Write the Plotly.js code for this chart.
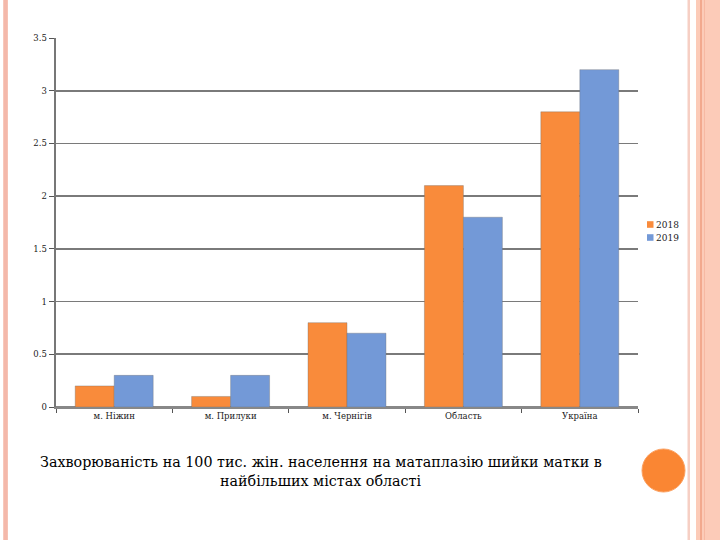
<!DOCTYPE html>
<html>
<head>
<meta charset="utf-8">
<script src="https://cdn.plot.ly/plotly-3.0.1.min.js"></script>
<style>
html,body{margin:0;padding:0;background:#fff;}
#chart{width:720px;height:540px;}
</style>
</head>
<body>
<div id="chart"></div>
<script>
const categories = ["м. Ніжин", "м. Прилуки", "м. Чернігів", "Область", "Україна"];
const series2018 = [0.2, 0.1, 0.8, 2.1, 2.8];
const series2019 = [0.3, 0.3, 0.7, 1.8, 3.2];
const seriesNames = ["2018", "2019"];
const seriesColors = ["#F98B3B", "#7399D7"];
const yTicks = [0, 0.5, 1, 1.5, 2, 2.5, 3, 3.5];
const captionLines = ["Захворюваність на 100 тис. жін. населення на матаплазію шийки матки в", "найбільших містах області"];

const SERIF = "DejaVu Serif";
const W = 720, H = 540;
const M = {l: 56, r: 82, t: 38, b: 133};
const pw = W - M.l - M.r, ph = H - M.t - M.b;
const px = x => (x - M.l) / pw;
const py = y => 1 - (y - M.t) / ph;

const traces = [series2018, series2019].map((vals, i) => ({
  type: "bar", name: seriesNames[i], x: categories, y: vals, showlegend: false,
  marker: {color: seriesColors[i], line: {color: "rgba(110,110,110,0.6)", width: 0.6}}
}));

function vrect(x0, x1, color) {
  return {type: "rect", xref: "paper", yref: "paper", x0: px(x0), x1: px(x1),
          y0: py(H), y1: py(0), fillcolor: color, line: {width: 0}, layer: "below"};
}

const shapes = [
  vrect(3, 8, "#F7C9BC"),
  vrect(4.5, 5.5, "#F2A898"),
  vrect(6.5, 7.2, "#F2A898"),
  vrect(687.5, 690, "#F6CFC4"),
  vrect(696, 720, "#FCCBB8"),
  vrect(700, 702, "#F2A98E"),
  vrect(704, 705, "#F6B9A3"),
  {type: "circle", xref: "paper", yref: "paper",
   x0: px(642), x1: px(685), y0: py(492), y1: py(449),
   fillcolor: "#FA8633", line: {color: "#FBA060", width: 1}}
];

const annotations = [];
seriesNames.forEach((n, i) => {
  const cy = 224.5 + i * 13;
  shapes.push({type: "rect", xref: "paper", yref: "paper",
    x0: px(647), x1: px(653.5), y0: py(cy + 3.3), y1: py(cy - 3.3),
    fillcolor: seriesColors[i], line: {width: 0}});
  annotations.push({xref: "paper", yref: "paper", x: px(654.5), y: py(cy),
    text: n, showarrow: false, xanchor: "left", yanchor: "middle",
    font: {family: SERIF, size: 9, color: "#222"}});
});

captionLines.forEach((t, i) => annotations.push({
  xref: "paper", yref: "paper", x: px(321), y: py(462 + i * 19),
  text: t, showarrow: false, xanchor: "center", yanchor: "middle",
  font: {family: SERIF, size: 14.3, color: "#000"}
}));

const layout = {
  width: W, height: H,
  margin: M,
  paper_bgcolor: "#fff", plot_bgcolor: "#fff",
  barmode: "group", bargap: 0.33, bargroupgap: 0,
  showlegend: false,
  xaxis: {type: "category", tickson: "boundaries", ticks: "outside", ticklen: 4,
          tickcolor: "#555", showgrid: false, showline: true, linecolor: "#888", linewidth: 2,
          tickfont: {family: SERIF, size: 8.5, color: "#222"},
          fixedrange: true},
  yaxis: {range: [0, 3.5], tickvals: yTicks, ticktext: yTicks.map(String),
          ticks: "outside", ticklen: 5, tickcolor: "#555",
          showgrid: true, gridcolor: "#7a7a7a", gridwidth: 1.6,
          showline: true, linecolor: "#777", linewidth: 2.5,
          zeroline: true, zerolinecolor: "#888", zerolinewidth: 2,
          tickfont: {family: SERIF, size: 8.5, color: "#222"},
          fixedrange: true},
  shapes: shapes,
  annotations: annotations,
  font: {family: SERIF}
};

Plotly.newPlot("chart", traces, layout, {displayModeBar: false, staticPlot: true});
</script>
</body>
</html>
